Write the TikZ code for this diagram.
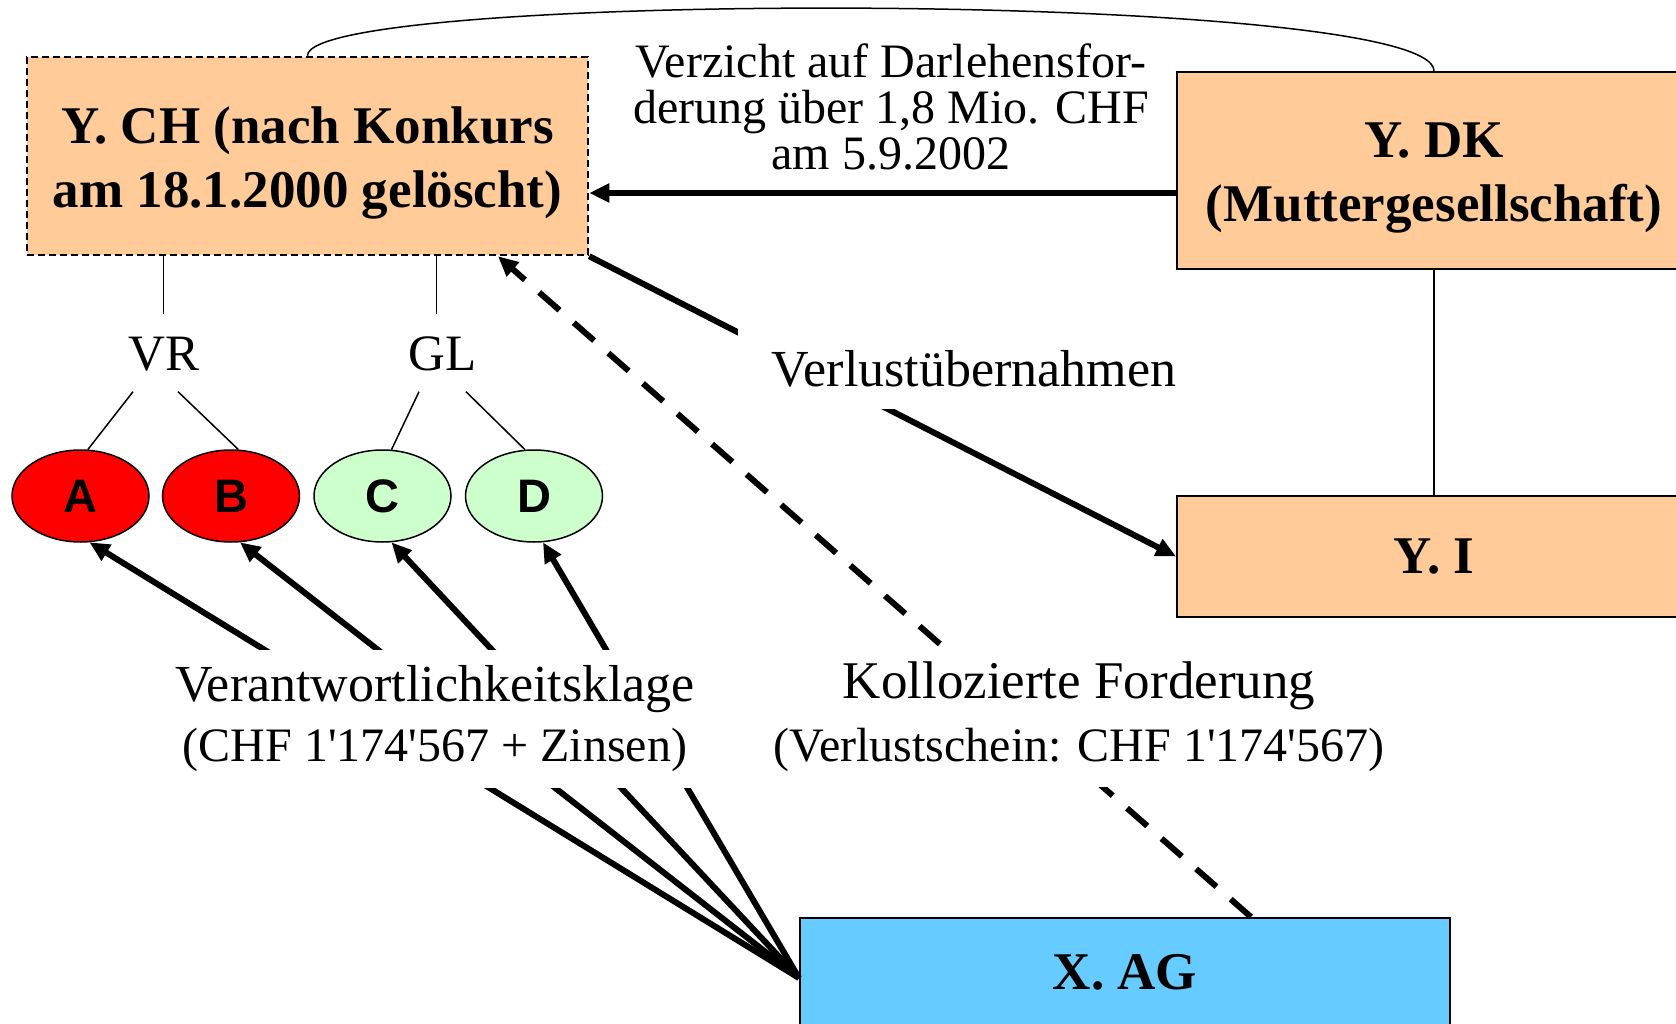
\documentclass[tikz,border=0pt]{standalone}
\usepackage{fontspec}
\setmainfont{Liberation Serif}[Ligatures=TeXOff]
\newfontfamily\sansbf{Liberation Sans}[Ligatures=TeXOff]
\usetikzlibrary{arrows.meta,shapes.geometric}
\definecolor{peach}{HTML}{FFCC99}
\definecolor{skyb}{HTML}{66CCFF}
\definecolor{lgreen}{HTML}{CCFFCC}
\definecolor{ered}{HTML}{FF0000}
\begin{document}
\begin{tikzpicture}[x=1pt,y=-1pt,
  box/.style={draw, line width=2pt, fill=peach, align=center, inner sep=0pt,
    font=\fontsize{53}{64}\selectfont\bfseries},
  ell/.style={ellipse, draw, line width=1.5pt, minimum width=137pt, minimum height=92pt,
    inner sep=0pt, font=\sansbf\bfseries\fontsize{47}{47}\selectfont},
  fine/.style={line width=1.5pt},
  bigarrow/.style={line width=6pt, -{Triangle[length=20pt,width=18pt]}},
  grp/.style={font=\fontsize{51}{51}\selectfont, text height=35pt, text depth=0pt,
    inner xsep=0pt, inner ysep=21pt},
  lbl/.style={fill=white, align=center}
]
\useasboundingbox (0,0) rectangle (1676,1024);
\clip (0,0) rectangle (1676,1024);

% boxes
\node[box, line width=2.5pt, dash pattern=on 7pt off 4pt, minimum width=561pt, minimum height=198pt]
  (YCH) at (307.5,156) {\rule{0pt}{50pt}Y. CH (nach Konkurs\\am 18.1.2000 gelöscht)};
\node[box, minimum width=514pt, minimum height=197pt]
  (YDK) at (1434,170.5) {\rule{0pt}{50pt}Y. DK\\(Muttergesellschaft)};
\node[box, minimum width=514pt, minimum height=121pt]
  (YI) at (1434,556.5) {Y. I};
\node[box, fill=skyb, minimum width=650pt, minimum height=108pt]
  (XAG) at (1125,972) {X. AG};

% ellipses
\node[ell, fill=ered]   (A) at (80.5,496) {A};
\node[ell, fill=ered]   (B) at (231,496) {B};
\node[ell, fill=lgreen] (C) at (382.5,496) {C};
\node[ell, fill=lgreen] (D) at (534,496) {D};

% group labels
\node[grp] (VR) at (164,353) {VR};
\node[grp] (GL) at (442.5,353) {GL};

% thin connectors
\draw[fine] ([xshift=-144pt]YCH.south) -- ([xshift=-0.5pt]VR.north);
\draw[fine] ([xshift=129pt]YCH.south) -- ([xshift=-6pt]GL.north);
\draw[fine] ([xshift=-31pt]VR.south) -- (A.81);
\draw[fine] ([xshift=14pt]VR.south) -- (B.81);
\draw[fine] ([xshift=-23.5pt]GL.south) -- (C.79);
\draw[fine] ([xshift=23.5pt]GL.south) -- (D.101);
\draw[fine] (YDK) -- (YI);
\draw[fine] (YCH.north) .. controls +(0,-66) and +(0,-81) .. (YDK.north);

% thick arrows
\draw[bigarrow] ([yshift=-22.5pt]YDK.west) -- ([yshift=-37pt]YCH.east);
\draw[bigarrow] (YCH.south east) -- (YI.west);
\draw[bigarrow, dash pattern=on 27pt off 19pt] ([xshift=126pt]XAG.north) -- ([xshift=190.5pt]YCH.south);
\foreach \e in {A,B,C,D}
  \draw[bigarrow] ([yshift=-6pt]XAG.west) -- (\e.-79);

% labels
\node[align=center, inner sep=0pt, font=\fontsize{48}{46}\selectfont]
  (verz) at (891,106.5) {Verzicht auf Darlehensfor-\\derung über 1,8 Mio. CHF\\am 5.9.2002};
\node[lbl, font=\fontsize{52}{52}\selectfont, inner xsep=34pt, inner ysep=22pt]
  (verl) at (974,369) {Verlustübernahmen};
\node[lbl, font=\fontsize{52}{60}\selectfont, minimum height=138pt, inner xsep=8pt]
  (klage) at (435,719) {Verantwortlichkeitsklage\\{\fontsize{48}{60}\selectfont (CHF 1'174'567 + Zinsen)}};
\node[lbl, font=\fontsize{53}{63}\selectfont, minimum height=140pt, inner xsep=8pt]
  (koll) at (1079,717) {Kollozierte Forderung\\{\fontsize{48}{63}\selectfont (Verlustschein: CHF 1'174'567)}};
\end{tikzpicture}
\end{document}
